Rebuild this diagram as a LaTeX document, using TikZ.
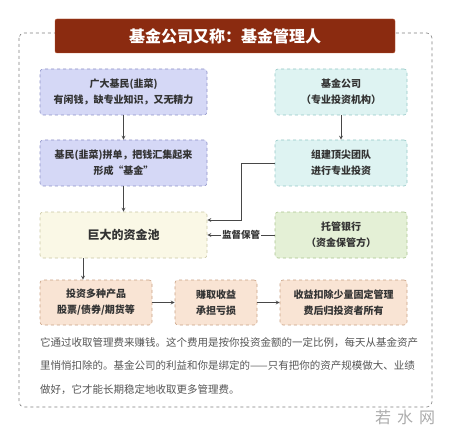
\documentclass[tikz,border=0pt]{standalone}
\usepackage{fontspec}
\setmainfont{Noto Sans CJK SC}
\usepackage{xcolor}
\usetikzlibrary{calc}

\definecolor{titlered}{HTML}{8B2B10}
\definecolor{titleedge}{HTML}{B5502A}
\definecolor{blueface}{HTML}{D5D8F6}
\definecolor{blueedge}{HTML}{8C90C6}
\definecolor{cyanface}{HTML}{DEF3F2}
\definecolor{cyanedge}{HTML}{93C7C5}
\definecolor{creamface}{HTML}{FAF8E6}
\definecolor{creamedge}{HTML}{C9C5A2}
\definecolor{greenface}{HTML}{E4F0D6}
\definecolor{greenedge}{HTML}{A9C38F}
\definecolor{peachface}{HTML}{F9E4D4}
\definecolor{peachedge}{HTML}{C8A083}
\definecolor{inkgray}{HTML}{333333}
\definecolor{notegray}{HTML}{555555}

\tikzset{
    box/.style={draw, dashed, rounded corners=3pt, line width=0.6pt, align=center,
        text=inkgray, font=\fontsize{10}{16}\selectfont\bfseries, inner sep=0pt},
    bluebox/.style={box, fill=blueface, draw=blueedge, minimum width=167pt, minimum height=46pt},
    cyanbox/.style={box, fill=cyanface, draw=cyanedge, minimum width=132pt, minimum height=46pt},
    creambox/.style={box, fill=creamface, draw=creamedge, minimum width=167pt, minimum height=46pt},
    greenbox/.style={box, fill=greenface, draw=greenedge, minimum width=132pt, minimum height=46pt},
    peachbox/.style={box, fill=peachface, draw=peachedge, minimum height=45pt},
    arr/.style={-stealth, draw=inkgray!90, line width=0.8pt}
}

\begin{document}
\begin{tikzpicture}[x=1pt, y=-1pt]

            \useasboundingbox (0, 0) rectangle (450, 425);

            \draw[dashed, gray, rounded corners=5pt, line width=0.6pt] (19, 33) rectangle (432, 407);

            \node[fill=titlered, draw=titleedge, rounded corners=2pt, minimum width=340pt, minimum height=34pt,
                text=white, font=\fontsize{16}{18}\selectfont\bfseries] (title) at (225, 36) {基金公司又称：基金管理人};

            \node[bluebox] (jimin) at (123.5, 92) {广大基民(韭菜)\\有闲钱，缺专业知识，又无精力};
            \node[cyanbox] (gongsi) at (341, 92) {基金公司\\（专业投资机构）};

            \node[bluebox] (pindan) at (123.5, 163) {基民(韭菜)拼单，把钱汇集起来\\形成“基金”};
            \node[cyanbox] (tuandui) at (341, 163) {组建顶尖团队\\进行专业投资};

            \node[creambox, font=\fontsize{12}{14}\selectfont\bfseries] (zijinchi) at (123.5, 235) {巨大的资金池};
            \node[greenbox] (tuoguan) at (341, 235) {托管银行\\（资金保管方）};

            \node[peachbox, minimum width=112pt] (touzi) at (96, 302.5) {投资多种产品\\股票/债券/期货等};
            \node[peachbox, minimum width=82pt] (shouyi) at (216, 302.5) {赚取收益\\承担亏损};
            \node[peachbox, minimum width=127pt] (guishu) at (343.5, 302.5) {收益扣除少量固定管理\\费后归投资者所有};

            \draw[arr] (jimin) -- (pindan);
            \draw[arr] (gongsi) -- (tuandui);
            \draw[arr] (pindan) -- (zijinchi);

            \coordinate (turn) at (241, 220);
            \draw[arr] (tuandui.west) -| (turn) -- (zijinchi.east |- turn);

            \draw[arr] (tuoguan.west) -- node[fill=white, inner sep=1pt, text=inkgray,
                font=\fontsize{9.5}{11}\selectfont\bfseries] (jiandu) {监督保管} (zijinchi.east);

            \draw[arr] ([xshift=-40.5pt]zijinchi.south) -- ([xshift=-40.5pt]zijinchi.south |- touzi.north);
            \draw[arr] (touzi) -- (shouyi);
            \draw[arr] (shouyi) -- (guishu);

            \node[anchor=north west, align=left, inner sep=0pt, text=notegray,
                font=\fontsize{10.5}{23.5}\selectfont] (note) at (40, 337)
                {它通过收取管理费来赚钱。这个费用是按你投资金额的一定比例，每天从基金资产\\
                 里悄悄扣除的。基金公司的利益和你是绑定的——只有把你的资产规模做大、业绩\\
                 做好，它才能长期稳定地收取更多管理费。};

            \node[text=gray!65, font=\fontsize{16}{18}\selectfont] (mark) at (405, 417) {若\hspace{6pt}水\hspace{6pt}网};
        \end{tikzpicture}
\end{document}
